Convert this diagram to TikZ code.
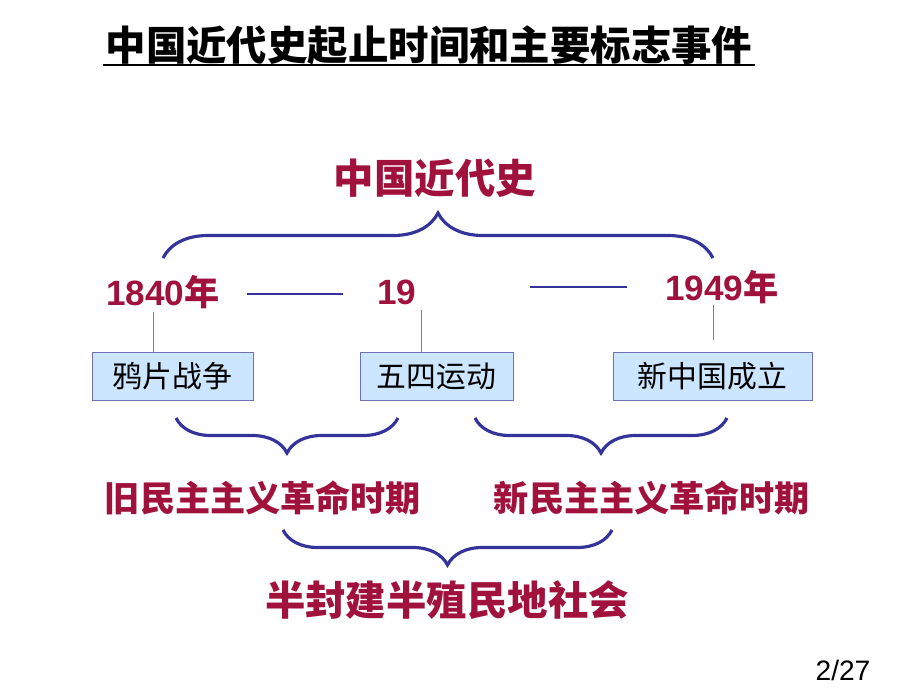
\documentclass[tikz,border=0pt]{standalone}
\usepackage{fontspec}
\setmainfont{Liberation Sans}
\newfontfamily\cjk{Noto Sans CJK SC}
\usetikzlibrary{decorations.pathreplacing}
\definecolor{deepred}{HTML}{A0123C}
\definecolor{braceblue}{HTML}{33339A}
\definecolor{boxfill}{HTML}{CCE6FF}
\tikzset{
  brc/.style={draw=braceblue, line width=1.8pt,
    decoration={brace, amplitude=#1}, decorate},
  era/.style={text=deepred, font=\cjk\bfseries\fontsize{20pt}{20pt}\selectfont},
  big/.style={text=deepred, font=\cjk\bfseries\fontsize{23pt}{23pt}\selectfont},
  yr/.style={text=deepred, font=\bfseries\fontsize{20pt}{20pt}\selectfont},
  evt/.style={draw=braceblue!70, fill=boxfill, minimum height=0.96cm, font=\cjk\fontsize{17pt}{17pt}\selectfont},
  tick/.style={draw=gray, line width=0.5pt},
}
\begin{document}
\begin{tikzpicture}[x=0.02cm, y=-0.02cm]
\useasboundingbox (0,0) rectangle (920,690);
\node (title) at (429,45) {\cjk\bfseries\fontsize{23pt}{23pt}\selectfont 中国近代史起止时间和主要标志事件};
\draw[line width=1.5pt] (103,65) -- (755,65);

\node[big] (modern) at (435,178) {中国近代史};
\coordinate (tl) at (163,258);
\coordinate (tr) at (713,258);
\draw[brc=0.9cm] (tl) -- (tr);

\node[yr] (y1840) at (163,292) {1840\cjk 年};
\node[yr] (y19) at (397,292) {19};
\node[yr] (y1949) at (722,287) {1949\cjk 年};
\coordinate (d1a) at (247,294); \coordinate (d1b) at (343,294);
\coordinate (d2a) at (530,287); \coordinate (d2b) at (627,287);
\draw[braceblue, line width=1.5pt] (d1a) -- (d1b);
\draw[braceblue, line width=1.5pt] (d2a) -- (d2b);

\node[evt, minimum width=3.22cm] (opium) at (172.5,376) {鸦片战争};
\node[evt, minimum width=3.06cm] (may4) at (436.5,376) {五四运动};
\node[evt, minimum width=3.98cm] (prc) at (712.5,376) {新中国成立};
\coordinate (t1) at (153,312); \coordinate (t2) at (421,310);
\coordinate (t3a) at (713,305); \coordinate (t3b) at (713,340);
\draw[tick] (t1) -- (t1 |- opium.north);
\draw[tick] (t2) -- (t2 |- may4.north);
\draw[tick] (t3a) -- (t3b);

\coordinate (b1l) at (176,418); \coordinate (b1r) at (398,418);
\coordinate (b2l) at (475,418); \coordinate (b2r) at (727,418);
\draw[brc=0.7cm] (b1r) -- (b1l);
\draw[brc=0.7cm] (b2r) -- (b2l);

\node[era] (old) at (263,498) {旧民主主义革命时期};
\node[era] (new) at (652,498) {新民主主义革命时期};
\coordinate (b3l) at (283,530); \coordinate (b3r) at (612,530);
\draw[brc=0.7cm] (b3r) -- (b3l);
\node[big] (semi) at (447,600) {半封建半殖民地社会};

\node (page) at (843,670) {\fontsize{16pt}{16pt}\selectfont 2/27};
\end{tikzpicture}
\end{document}
